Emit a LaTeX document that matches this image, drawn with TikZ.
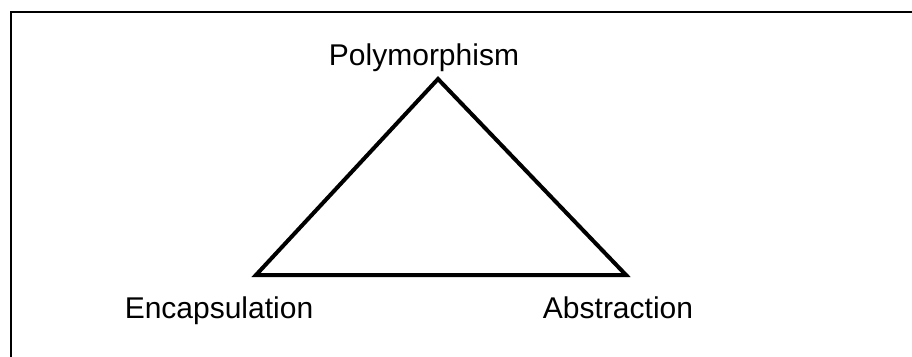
\documentclass[tikz,border=0pt]{standalone}
\usepackage{fontspec}
\setmainfont{Liberation Sans}
\begin{document}
\begin{tikzpicture}[x=1pt,y=-1pt,
  lbl/.style={inner sep=0pt,anchor=base,font=\fontsize{30}{36}\selectfont},
  frameline/.style={line width=2pt,black},
  triline/.style={line width=4pt,black,line join=miter}]
\useasboundingbox (0,0) rectangle (912,356);
\draw[frameline] (913,12) -- (11,12) -- (11,357);
\coordinate (top) at (438,79);
\coordinate (bl) at (256,275);
\coordinate (br) at (626,275);
\draw[triline] (top) -- (br) -- (bl) -- cycle;
\node[lbl] (poly) at (424,65) {Polymorphism};
\node[lbl] (enc) at (219,318) {Encapsulation};
\node[lbl] (abs) at (618,318) {Abstraction};
\end{tikzpicture}
\end{document}
